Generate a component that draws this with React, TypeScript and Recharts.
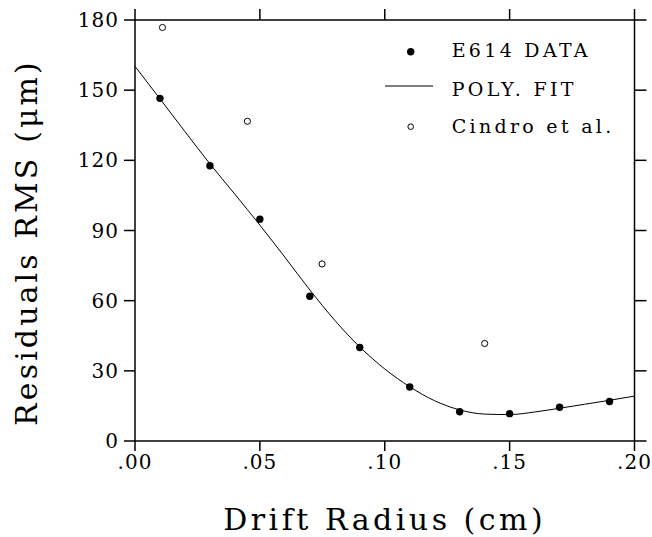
import React from 'react';
import { ComposedChart, Line, Scatter, XAxis, YAxis, Legend } from 'recharts';

// Polynomial fit curve
const fitX = [0, 0.01, 0.02, 0.03, 0.04, 0.05, 0.06, 0.07, 0.08, 0.09, 0.1, 0.11, 0.12, 0.13, 0.14, 0.15, 0.16, 0.17, 0.18, 0.19, 0.2];
const fitY = [160.2, 146.3, 132.3, 118.5, 105.5, 92.3, 78.6, 64.6, 51.6, 40.2, 30.8, 23.2, 17.2, 13.3, 11.5, 11.3, 12.4, 14, 15.7, 17.4, 19.2];

// E614 data
const e614X = [0.01, 0.03, 0.05, 0.07, 0.09, 0.11, 0.13, 0.15, 0.17, 0.19];
const e614Y = [146.5, 117.7, 94.8, 61.9, 40, 23.1, 12.5, 11.7, 14.4, 16.9];

// Cindro et al.
const cindroX = [0.011, 0.045, 0.0749, 0.14];
const cindroY = [176.8, 136.7, 75.7, 41.7];

const xTicks = [0, 0.05, 0.1, 0.15, 0.2];
const xTickLabels = ['.00', '.05', '.10', '.15', '.20'];
const yTicks = [0, 30, 60, 90, 120, 150, 180];
const yTickLabels = ['0', '30', '60', '90', '120', '150', '180'];

const fitData = fitX.map((x, i) => ({ x, fit: fitY[i] }));
const e614Data = e614X.map((x, i) => ({ x, y: e614Y[i] }));
const cindroData = cindroX.map((x, i) => ({ x, y: cindroY[i] }));

const FONT = 'DejaVu Serif';
const AX = { stroke: '#000', strokeWidth: 1.5 };

const FilledDot = (p: any) => <circle cx={p.cx} cy={p.cy} r={3.7} fill="#000" />;
const OpenDot = (p: any) => <circle cx={p.cx} cy={p.cy} r={3.1} fill="#fff" stroke="#000" strokeWidth={1} />;

const LegendBox = () => (
  <svg width={270} height={120} style={{ display: 'block', overflow: 'visible' }}>
    <g fontFamily={FONT} fontSize={19} fill="#000" letterSpacing={3.3}>
      <circle cx={30.7} cy={21.7} r={3.7} fill="#000" />
      <text x={71.7} y={26.7}>E614 DATA</text>
      <line x1={5} x2={53} y1={56} y2={56} stroke="#000" strokeWidth={1} />
      <text x={71.7} y={66}>POLY. FIT</text>
      <circle cx={30.7} cy={96.7} r={2.8} fill="#fff" stroke="#000" strokeWidth={1} />
      <text x={71.7} y={103.3}>Cindro et al.</text>
    </g>
  </svg>
);

const YTitle = (props: any) => {
  const vb = props.viewBox || { x: 0, y: 20, width: 135, height: 421 };
  const cx = vb.x + 37;
  const cy = vb.y + vb.height / 2 + 12;
  return (
    <text x={cx} y={cy} transform={`rotate(-90 ${cx} ${cy})`} textAnchor="middle" fontFamily={FONT} fontSize={30} letterSpacing={3.1} fill="#000">
      Residuals RMS (μm)
    </text>
  );
};

const XTitle = (props: any) => {
  const vb = props.viewBox || { x: 135, y: 441, width: 500, height: 96 };
  const cx = vb.x + vb.width / 2;
  const cy = vb.y + 89;
  return (
    <text x={cx} y={cy} textAnchor="middle" fontFamily={FONT} fontSize={30} letterSpacing={3.5} fill="#000">
      Drift Radius (cm)
    </text>
  );
};

const tickStyle = { fontFamily: FONT, fontSize: 20, fill: '#000', letterSpacing: 1 };

export default function App() {
  return (
    <div style={{ position: 'absolute', left: 0, top: 0, background: '#fff' }}>
      <ComposedChart width={652} height={537} margin={{ top: 0, right: 0, bottom: 0, left: 0 }} style={{ fontFamily: FONT }}>
        <XAxis
          xAxisId="b"
          dataKey="x"
          type="number"
          domain={[0, 0.2]}
          ticks={xTicks}
          tickFormatter={(v: number) => xTickLabels[xTicks.indexOf(v)] ?? ''}
          allowDataOverflow
          height={96}
          tickSize={10}
          tickMargin={4}
          axisLine={AX}
          tickLine={AX}
          tick={tickStyle}
          label={<XTitle />}
        />
        <XAxis
          xAxisId="t"
          orientation="top"
          dataKey="x"
          type="number"
          domain={[0, 0.2]}
          ticks={xTicks}
          tickFormatter={() => ''}
          allowDataOverflow
          height={20}
          tickSize={11}
          axisLine={AX}
          tickLine={AX}
        />
        <YAxis
          yAxisId="l"
          type="number"
          domain={[0, 180]}
          ticks={yTicks}
          tickFormatter={(v: number) => yTickLabels[yTicks.indexOf(v)] ?? ''}
          allowDataOverflow
          width={135}
          tickSize={11}
          tickMargin={5}
          axisLine={AX}
          tickLine={AX}
          tick={tickStyle}
          label={<YTitle />}
        />
        <YAxis
          yAxisId="r"
          orientation="right"
          type="number"
          domain={[0, 180]}
          ticks={yTicks}
          tickFormatter={() => ''}
          allowDataOverflow
          width={17.5}
          tickSize={12}
          axisLine={AX}
          tickLine={AX}
        />
        <Line
          xAxisId="b"
          yAxisId="l"
          data={fitData}
          dataKey="fit"
          type="monotone"
          stroke="#000"
          strokeWidth={1}
          dot={false}
          activeDot={false}
          isAnimationActive={false}
        />
        <Scatter xAxisId="t" yAxisId="r" data={cindroData} dataKey="y" shape={OpenDot} isAnimationActive={false} />
        <Scatter xAxisId="b" yAxisId="l" data={e614Data} dataKey="y" shape={FilledDot} isAnimationActive={false} />
        <Legend
          layout="vertical"
          align="center"
          verticalAlign="middle"
          content={<LegendBox />}
          wrapperStyle={{ left: 380, top: 30, width: 270, height: 120 }}
        />
      </ComposedChart>
    </div>
  );
}
